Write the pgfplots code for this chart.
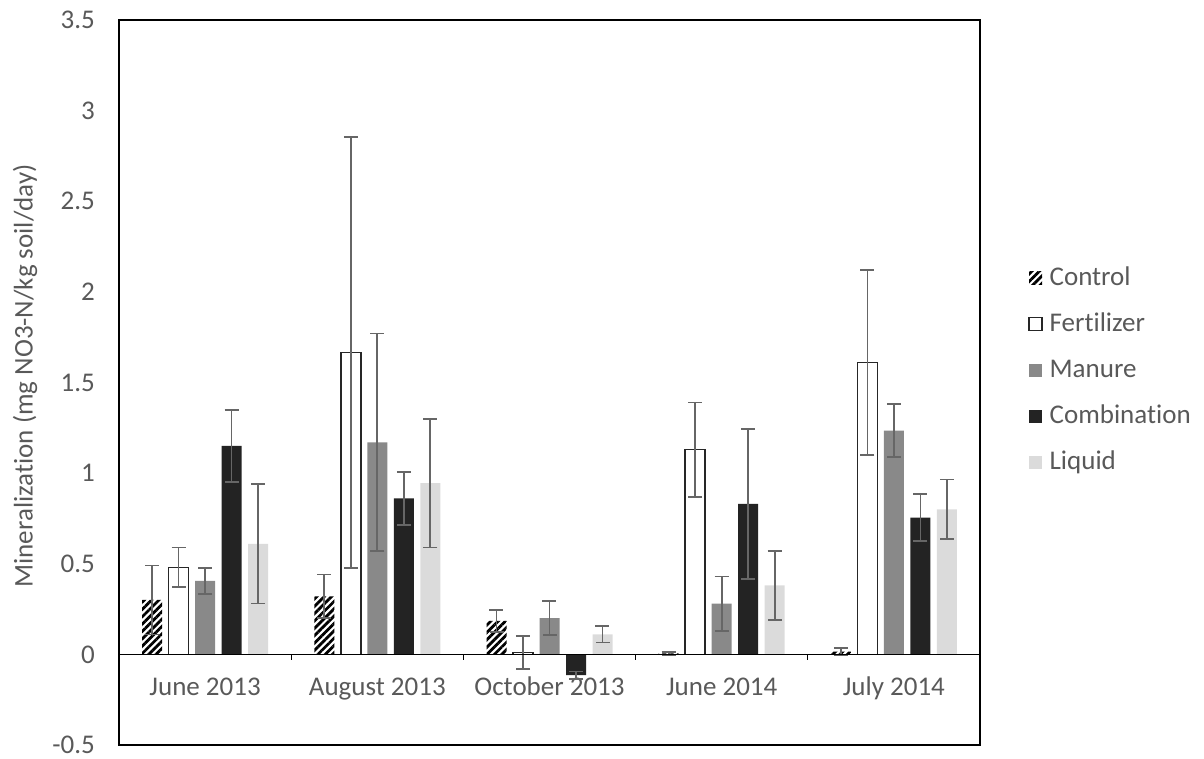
\documentclass[border=0pt]{standalone}
\usepackage{fontspec}
\setmainfont{Carlito}[Ligatures=NoCommon]
\usepackage{pgfplots}
\pgfplotsset{compat=1.18}
\usetikzlibrary{patterns.meta}
\definecolor{txt}{HTML}{595959}
\definecolor{errc}{HTML}{666666}
\definecolor{manure}{HTML}{898989}
\definecolor{comb}{HTML}{232323}
\definecolor{liquid}{HTML}{DBDBDB}
\definecolor{fertb}{HTML}{262626}
\newcommand\cf{\fontsize{13.5pt}{16pt}\selectfont}
\begin{document}
\begin{tikzpicture}
\begin{axis}[
  at={(0,0)}, anchor=south west,
  scale only axis, width=430.5pt, height=362.5pt,
  xmin=-0.5, xmax=4.5, ymin=-0.5, ymax=3.5,
  ytick={-0.5,0,0.5,1,1.5,2,2.5,3,3.5},
  xtick={0,1,2,3,4},
  xticklabels={June 2013, August 2013, October 2013, June 2014, July 2014},
  major tick length=0pt,
  /pgf/number format/assume math mode=true,
  /pgf/number format/fixed,
  yticklabel style={font=\cf, text=txt, xshift=-8.5pt},
  xticklabel style={font=\cf, text=txt, anchor=base, yshift=24.5pt},
  axis line style={black, line width=0.75pt},
  ylabel={Mineralization (mg NO3-N/kg soil/day)},
  ylabel style={at={(axis description cs:-0.109,0.509)}, anchor=center, font=\cf, text=txt},
  ybar=3.25pt, bar width=10pt,
  legend cell align=left,
  legend image code/.code={\fill[#1] (0pt,-3.25pt) rectangle (6.5pt,3.25pt);},
  legend style={at={(1.0558,0.517)}, anchor=west, draw=none, fill=none, inner sep=0pt, row sep=6pt, column sep=1.5pt,
    nodes={text height=10pt, text depth=3pt, text=txt, font=\cf}},
  error bars/y dir=both, error bars/y explicit,
  error bars/error bar style={draw=errc, line width=0.85pt},
  error bars/error mark=-,
  error bars/error mark options={draw=errc, line width=0.85pt, mark size=3.5pt, rotate=90},
]
\addplot[draw=none, pattern={Lines[angle=45,distance=2.6pt,line width=1.4pt]}, pattern color=black]
  coordinates {(0,0.30) +- (0,0.19) (1,0.32) +- (0,0.12) (2,0.185) +- (0,0.06) (3,0.005) +- (0,0.01) (4,0.015) +- (0,0.02)};
\addplot[draw=fertb, fill=white, line width=0.75pt,
  legend image code/.code={\draw[draw=fertb, fill=white, line width=0.6pt] (0pt,-3.25pt) rectangle (6.5pt,3.25pt);}]
  coordinates {(0,0.48) +- (0,0.11) (1,1.665) +- (0,1.19) (2,0.01) +- (0,0.09) (3,1.13) +- (0,0.26) (4,1.61) +- (0,0.51)};
\addplot[draw=none, fill=manure]
  coordinates {(0,0.405) +- (0,0.07) (1,1.17) +- (0,0.60) (2,0.20) +- (0,0.095) (3,0.28) +- (0,0.15) (4,1.235) +- (0,0.145)};
\addplot[draw=none, fill=comb]
  coordinates {(0,1.15) +- (0,0.20) (1,0.86) +- (0,0.145) (2,-0.115) +- (0,0.02) (3,0.83) +- (0,0.415) (4,0.755) +- (0,0.13)};
\addplot[draw=none, fill=liquid]
  coordinates {(0,0.61) +- (0,0.33) (1,0.945) +- (0,0.355) (2,0.11) +- (0,0.045) (3,0.38) +- (0,0.19) (4,0.80) +- (0,0.165)};
\legend{Control, Fertilizer, Manure, Combination, Liquid}
\draw[black, line width=0.6pt] (axis cs:-0.5,0) -- (axis cs:4.5,0);
\draw[black, line width=0.6pt] (axis cs:0.5,0) -- ([yshift=-3pt]axis cs:0.5,0);
\draw[black, line width=0.6pt] (axis cs:1.5,0) -- ([yshift=-3pt]axis cs:1.5,0);
\draw[black, line width=0.6pt] (axis cs:2.5,0) -- ([yshift=-3pt]axis cs:2.5,0);
\draw[black, line width=0.6pt] (axis cs:3.5,0) -- ([yshift=-3pt]axis cs:3.5,0);
\end{axis}
\pgfresetboundingbox
\useasboundingbox (-59.5pt,-7pt) rectangle (542.5pt,372.5pt);
\end{tikzpicture}
\end{document}
